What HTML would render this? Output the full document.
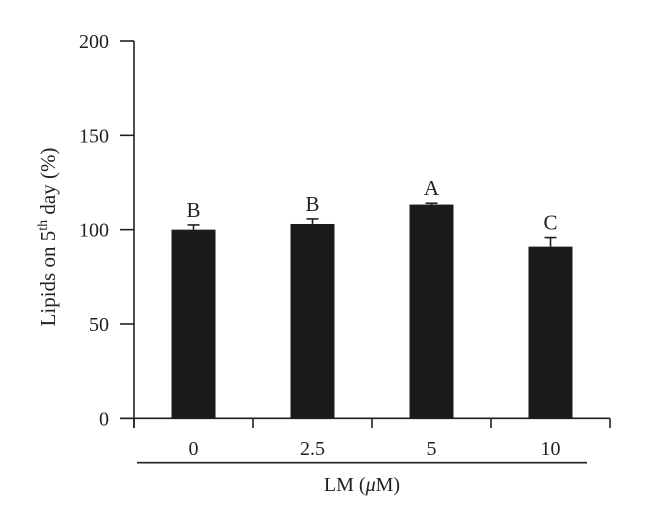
<!DOCTYPE html>
<html><head><meta charset="utf-8"><style>
body{margin:0;background:#fff}
svg text{font-family:"Liberation Serif",serif;fill:#231f20}
</style></head><body>
<svg width="660" height="526" xmlns="http://www.w3.org/2000/svg">
<g id="g"></g>
</svg>
<script>
const categories=["0","2.5","5","10"];
const values=[100,103,113.3,91];
const errors=[2.5,2.7,0.7,4.8];
const letters=["B","B","A","C"];
const yTicks=[0,50,100,150,200];
const NS="http://www.w3.org/2000/svg";
const g=document.getElementById('g');
const x0=134,x1=610,yBase=418.3,yTop=41;
const y=v=>yBase-(v/200)*(yBase-yTop);
const bw=(x1-x0)/categories.length;
const cx=i=>x0+bw*(i+0.5);
function el(t,a,txt){const e=document.createElementNS(NS,t);for(const k in a)e.setAttribute(k,a[k]);if(txt!=null)e.textContent=txt;g.appendChild(e);return e;}
const ax=el('line',{x1:x0,y1:yTop,x2:x0,y2:428,stroke:'#231f20','stroke-width':1.6});

const xa=el('line',{x1:120,y1:yBase,x2:x1,y2:yBase,stroke:'#231f20','stroke-width':1.6});

yTicks.forEach(v=>{
 const t=el('line',{x1:120,y1:y(v),x2:x0,y2:y(v),stroke:'#231f20','stroke-width':1.6});
 
 const l=el('text',{x:109,y:y(v)+7,'text-anchor':'end','font-size':20},v);
 
});
for(let i=0;i<=categories.length;i++){
 const t=el('line',{x1:x0+bw*i,y1:yBase,x2:x0+bw*i,y2:428,stroke:'#231f20','stroke-width':1.6});
 
}
categories.forEach((c,i)=>{
 const bx=cx(i)-22;
 const ey=y(values[i]+errors[i]);
 const e1=el('line',{x1:cx(i),y1:y(values[i]),x2:cx(i),y2:ey,stroke:'#231f20','stroke-width':1.6});
 
 const e2=el('line',{x1:cx(i)-6,y1:ey,x2:cx(i)+6,y2:ey,stroke:'#231f20','stroke-width':1.6});
 
 const r=el('rect',{x:bx,y:y(values[i]),width:44,height:yBase-y(values[i]),fill:'#1c1a1b'});
 
 const L=el('text',{x:cx(i),y:ey-8,'text-anchor':'middle','font-size':21},letters[i]);
 
 const tl=el('text',{x:cx(i),y:455,'text-anchor':'middle','font-size':20},c);
 
});
const bl=el('line',{x1:137,y1:462.7,x2:587,y2:462.7,stroke:'#231f20','stroke-width':1.6});

const xt=el('text',{x:362,y:491,'text-anchor':'middle','font-size':20});

xt.innerHTML='LM (<tspan font-style="italic">μ</tspan>M)';
const yt=el('text',{transform:'translate(55,237) rotate(-90)','text-anchor':'middle','font-size':21});

yt.innerHTML='Lipids on 5<tspan font-size="14" dy="-8">th</tspan><tspan dy="8"> day (%)</tspan>';
</script>
</body></html>
